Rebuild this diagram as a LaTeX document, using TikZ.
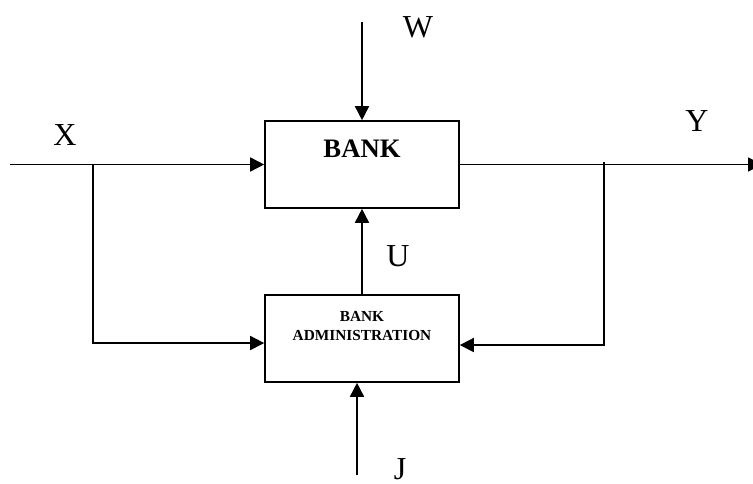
\documentclass[tikz,border=0pt]{standalone}
\usepackage{fontspec}
\setmainfont{Liberation Serif}
\usetikzlibrary{arrows.meta}

\begin{document}
\begin{tikzpicture}
[
	block/.style={draw,line width=1.2pt,minimum width=145.5pt,minimum height=65.25pt,inner sep=0pt},
	flow/.style={line width=1.2pt,-{Triangle[length=10.5pt,width=10.5pt]}},
	letter/.style={anchor=base,inner sep=0pt,font=\fontsize{24}{28}\selectfont},
	x=0.75pt,
	y=-0.75pt
]
	\useasboundingbox (0,0) rectangle (753,484);

	% boxes
	\node[block] (bank) at (362,164.5) {};
	\node[block] (admin) at (362,338.5) {};
	\node[anchor=base,inner sep=0pt,font=\bfseries\fontsize{20}{24}\selectfont] (bankname) at (362,158) {BANK};
	\node[align=center,inner sep=0pt,font=\bfseries\fontsize{11.5}{14.25}\selectfont] (adminname) at (362,326) {BANK\\ADMINISTRATION};

	% free ends and branch points
	\coordinate (win) at (362,22);
	\coordinate (xin) at (10,164.5);
	\coordinate (xsplit) at (93,164.5);
	\coordinate (yout) at (762,164.5);
	\coordinate (ysplit) at (604,162);
	\coordinate (jin) at (357,475);

	% connectors
	\draw[flow] (win) -- (bank.north);
	\draw[flow] (xin) -- (bank.west);
	\draw[flow] (bank.east) -- (yout);
	\draw[flow] (admin.north) -- (bank.south);
	\draw[flow] (jin) -- (jin |- admin.south);
	\draw[flow] (xsplit) |- ([yshift=-3.4pt]admin.west);
	\draw[flow] (ysplit) |- ([yshift=-4.9pt]admin.east);

	% labels
	\node[letter] (wlabel) at (418,38) {W};
	\node[letter] (xlabel) at (65,146) {X};
	\node[letter] (ylabel) at (697,132) {Y};
	\node[letter] (ulabel) at (398,267) {U};
	\node[letter] (jlabel) at (400,479) {J};

\end{tikzpicture}
\end{document}
